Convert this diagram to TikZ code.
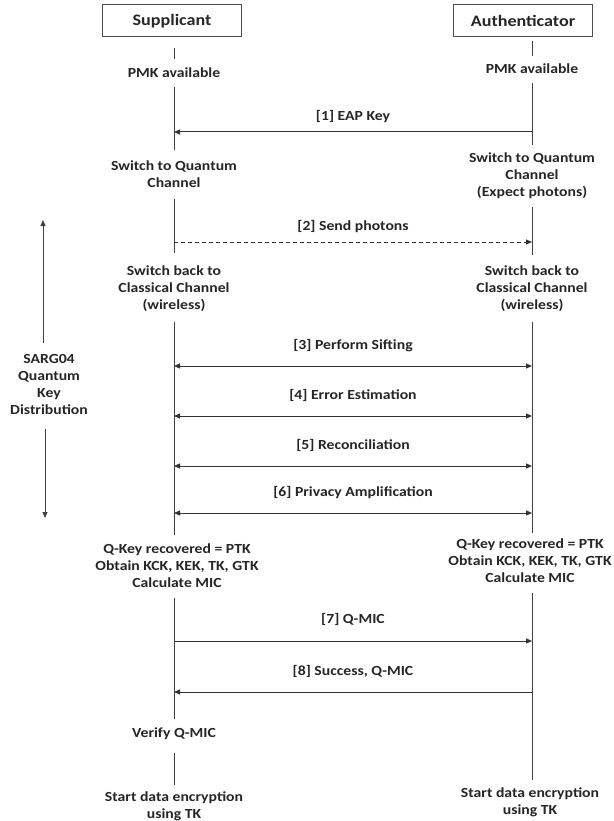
\documentclass[tikz,border=0pt]{standalone}
\usepackage{fontspec}
\setmainfont{Carlito}[FakeStretch=1.13]
\usetikzlibrary{arrows.meta}
\begin{document}
\begin{tikzpicture}[x=1pt,y=-1pt,
  txt/.style={font=\bfseries\fontsize{13.9}{17}\selectfont, align=center, inner sep=0pt, text=black!85},
  hdr/.style={draw=black!70, line width=1pt, minimum width=139pt, minimum height=32pt, inner sep=0pt,
    font=\bfseries\fontsize{16}{18}\selectfont, text=black!85},
  life/.style={draw=black!75, line width=0.9pt},
  tip/.style={-{Triangle[length=6pt,width=5pt]}},
  msg/.style={draw=black!80, line width=1pt, tip},
  both/.style={draw=black!80, line width=1pt, {Triangle[length=6pt,width=5pt]}-{Triangle[length=6pt,width=5pt]}},
  dmsg/.style={msg, dash pattern=on 4pt off 3pt}]
\useasboundingbox (0,0) rectangle (613,821);
\fill[white] (0,0) rectangle (613,821);

% header boxes
\node[hdr] (sup) at (172,21) {Supplicant};
\node[hdr] (aut) at (523,21) {Authenticator};

% supplicant texts
\node[txt] (s1) at (174,73) {PMK available};
\node[txt] (s2) at (174,174) {Switch to Quantum\\Channel};
\node[txt] (s3) at (174,289) {Switch back to\\Classical Channel\\(wireless)};
\node[txt] (s4) at (177,566) {Q-Key recovered = PTK\\Obtain KCK, KEK, TK, GTK\\Calculate MIC};
\node[txt] (s5) at (174,734) {Verify Q-MIC};
\node[txt] (s6) at (174,806) {Start data encryption\\using TK};

% authenticator texts
\node[txt] (a1) at (532,69) {PMK available};
\node[txt] (a2) at (532,176) {Switch to Quantum\\Channel\\(Expect photons)};
\node[txt] (a3) at (532,289) {Switch back to\\Classical Channel\\(wireless)};
\node[txt] (a4) at (530,561) {Q-Key recovered = PTK\\Obtain KCK, KEK, TK, GTK\\Calculate MIC};
\node[txt] (a6) at (530,802) {Start data encryption\\using TK};

% left label
\node[txt] (qkd) at (49,384) {SARG04\\Quantum\\Key\\Distribution};
\coordinate (up1) at (43,343); \coordinate (up2) at (43,220);
\coordinate (dn1) at (45,429); \coordinate (dn2) at (45,518);
\draw[life, tip] (up1) -- (up2);
\draw[life, tip] (dn1) -- (dn2);

% lifeline segments (supplicant)
\foreach \a/\b [count=\i] in {48/59,87/150,199/253,322/535,598/719,753/785}{
  \coordinate (sl\i a) at (174,\a); \coordinate (sl\i b) at (174,\b);
  \draw[life] (sl\i a) -- (sl\i b);
}
% lifeline segments (authenticator)
\foreach \a/\b [count=\i] in {41/56,83/145,207/255,322/533,593/780}{
  \coordinate (al\i a) at (532,\a); \coordinate (al\i b) at (532,\b);
  \draw[life] (al\i a) -- (al\i b);
}

% message anchors
\foreach \y [count=\i] in {132,242,366,416,466,513,641,692}{
  \coordinate (L\i) at (174,\y); \coordinate (R\i) at (532,\y);
}

\draw[msg] (R1) -- (L1) node[txt, midway, above=9pt] (m1) {[1] EAP Key};
\draw[dmsg] (L2) -- (R2) node[txt, midway, above=9pt] (m2) {[2] Send photons};
\draw[both] (L3) -- (R3) node[txt, midway, above=14pt] (m3) {[3] Perform Sifting};
\draw[both] (L4) -- (R4) node[txt, midway, above=14pt] (m4) {[4] Error Estimation};
\draw[both] (L5) -- (R5) node[txt, midway, above=14pt] (m5) {[5] Reconciliation};
\draw[both] (L6) -- (R6) node[txt, midway, above=14pt] (m6) {[6] Privacy Amplification};
\draw[msg] (L7) -- (R7) node[txt, midway, above=15pt] (m7) {[7] Q-MIC};
\draw[msg] (R8) -- (L8) node[txt, midway, above=14pt] (m8) {[8] Success, Q-MIC};
\end{tikzpicture}
\end{document}
